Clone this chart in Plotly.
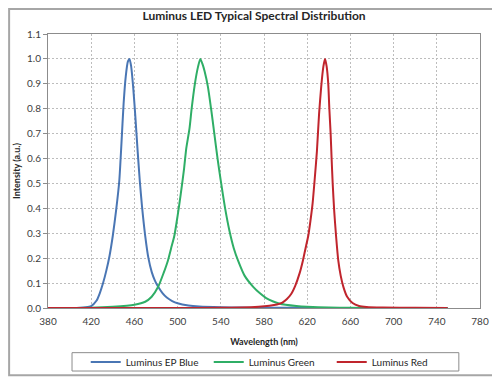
import plotly.graph_objects as go

# ---- data ----
blue_wl = [380, 400, 410, 415, 420, 425, 428, 431, 434, 437, 440, 443, 446, 448, 450, 452, 454, 455.5,
           457, 459, 461, 463, 465, 467, 470, 473, 476, 479, 482, 486, 490, 495, 500, 510, 520, 540,
           560, 580, 600, 620, 650, 700, 750]
blue_val = [0, 0, 0.001, 0.003, 0.008, 0.03, 0.06, 0.10, 0.15, 0.21, 0.29, 0.39, 0.51, 0.66, 0.82, 0.93,
            0.99, 1.0, 0.97, 0.88, 0.76, 0.63, 0.51, 0.41, 0.29, 0.20, 0.145, 0.11, 0.085, 0.06, 0.042,
            0.028, 0.019, 0.01, 0.006, 0.003, 0.002, 0.001, 0.001, 0.0005, 0, 0, 0]

green_wl = [380, 420, 440, 460, 470, 476, 482, 487, 491, 494, 497, 500, 503, 506, 508, 511, 513, 516,
            519, 521, 523, 525, 528, 531, 534, 537, 540, 544, 548, 552, 556, 562, 570, 576, 582, 588,
            594, 600, 610, 620, 640, 660, 680, 750]
green_val = [0, 0.001, 0.005, 0.013, 0.025, 0.045, 0.085, 0.14, 0.19, 0.24, 0.29, 0.37, 0.46, 0.56,
             0.64, 0.72, 0.80, 0.90, 0.97, 1.0, 0.98, 0.95, 0.89, 0.80, 0.70, 0.60, 0.51, 0.40, 0.31,
             0.24, 0.19, 0.13, 0.085, 0.06, 0.04, 0.027, 0.018, 0.013, 0.008, 0.005, 0.002, 0.001, 0, 0]

red_wl = [380, 500, 540, 560, 575, 585, 592, 597, 601, 605, 609, 613, 616, 619, 621, 623, 625, 627,
          629, 631, 633, 635, 636.5, 638, 639.5, 640.5, 641.7, 642.6, 643.6, 645, 646.7, 648.8, 651,
          653.5, 657, 662, 668, 675, 690, 720, 750]
red_val = [0, 0, 0.001, 0.002, 0.005, 0.009, 0.014, 0.022, 0.035, 0.055, 0.09, 0.14, 0.19, 0.25, 0.29,
           0.35, 0.42, 0.52, 0.63, 0.78, 0.89, 0.97, 1.0, 0.97, 0.9, 0.8, 0.7, 0.6, 0.5, 0.39, 0.29,
           0.19, 0.13, 0.085, 0.045, 0.02, 0.008, 0.004, 0.002, 0.001, 0]

series_names = ["Luminus EP Blue", "Luminus Green", "Luminus Red"]
x_ticks = [380, 420, 460, 500, 540, 580, 620, 660, 700, 740, 780]

FONT = "Lato"
fig = go.Figure()
for name, wl, val, col in [
    (series_names[0], blue_wl, blue_val, "#4a76b4"),
    (series_names[1], green_wl, green_val, "#2fae66"),
    (series_names[2], red_wl, red_val, "#c0252d"),
]:
    fig.add_trace(go.Scatter(x=wl, y=val, name=name, mode="lines",
                             line=dict(color=col, width=2, shape="spline", smoothing=0.6)))

fig.update_layout(
    width=492, height=370,
    margin=dict(l=40, r=20, t=26, b=70, autoexpand=False),
    paper_bgcolor="white", plot_bgcolor="white",
    font=dict(family=FONT, size=10, color="#404040"),
    title=dict(text="<b>Luminus LED Typical Spectral Distribution</b>", x=0.5, xanchor="center",
               xref="container", yref="container",
               y=0.978, yanchor="middle", font=dict(family=FONT, size=12, color="#262626")),
    showlegend=True,
    legend=dict(orientation="h", xref="container", yref="container", x=0.158, xanchor="left",
                y=0.043, yanchor="middle",
                entrywidth=78, font=dict(family=FONT, size=10, color="#262626"),
                bgcolor="rgba(0,0,0,0)", borderwidth=0),
)
fig.update_xaxes(range=[380, 780], tickvals=x_ticks, showline=True, linecolor="#8c8c8c", mirror=True,
                 showgrid=True, gridcolor="#bdbdbd", griddash="2px,2px", gridwidth=1, zeroline=False,
                 ticks="", ticklabelstandoff=4, tickfont=dict(size=10, color="#404040"), automargin=False,
                 title=dict(text="<b>Wavelength (nm)</b>", font=dict(size=9, color="#262626"), standoff=12))
fig.update_yaxes(range=[0, 1.1], dtick=0.1, tickformat=".1f", showline=True, linecolor="#8c8c8c",
                 mirror=True, showgrid=True, gridcolor="#bdbdbd", griddash="2px,2px", gridwidth=1,
                 zeroline=False, ticks="outside", ticklen=4, tickcolor="#8c8c8c",
                 tickfont=dict(size=10, color="#404040"), automargin=False,
                 title=dict(text="<b>Intensity (a.u.)</b>", font=dict(size=9, color="#262626"), standoff=4))

# outer chart frame and legend frame (decorative)
fig.add_shape(type="rect", xref="paper", yref="paper", x0=-0.090, x1=1.035, y0=-0.245, y1=1.091,
              line=dict(color="#a6a6a6", width=2), layer="below")
fig.add_shape(type="rect", xref="paper", yref="paper", x0=0.0556, x1=0.951, y0=-0.23, y1=-0.163,
              line=dict(color="#8c8c8c", width=1), layer="below")

fig.write_html("out.html")
